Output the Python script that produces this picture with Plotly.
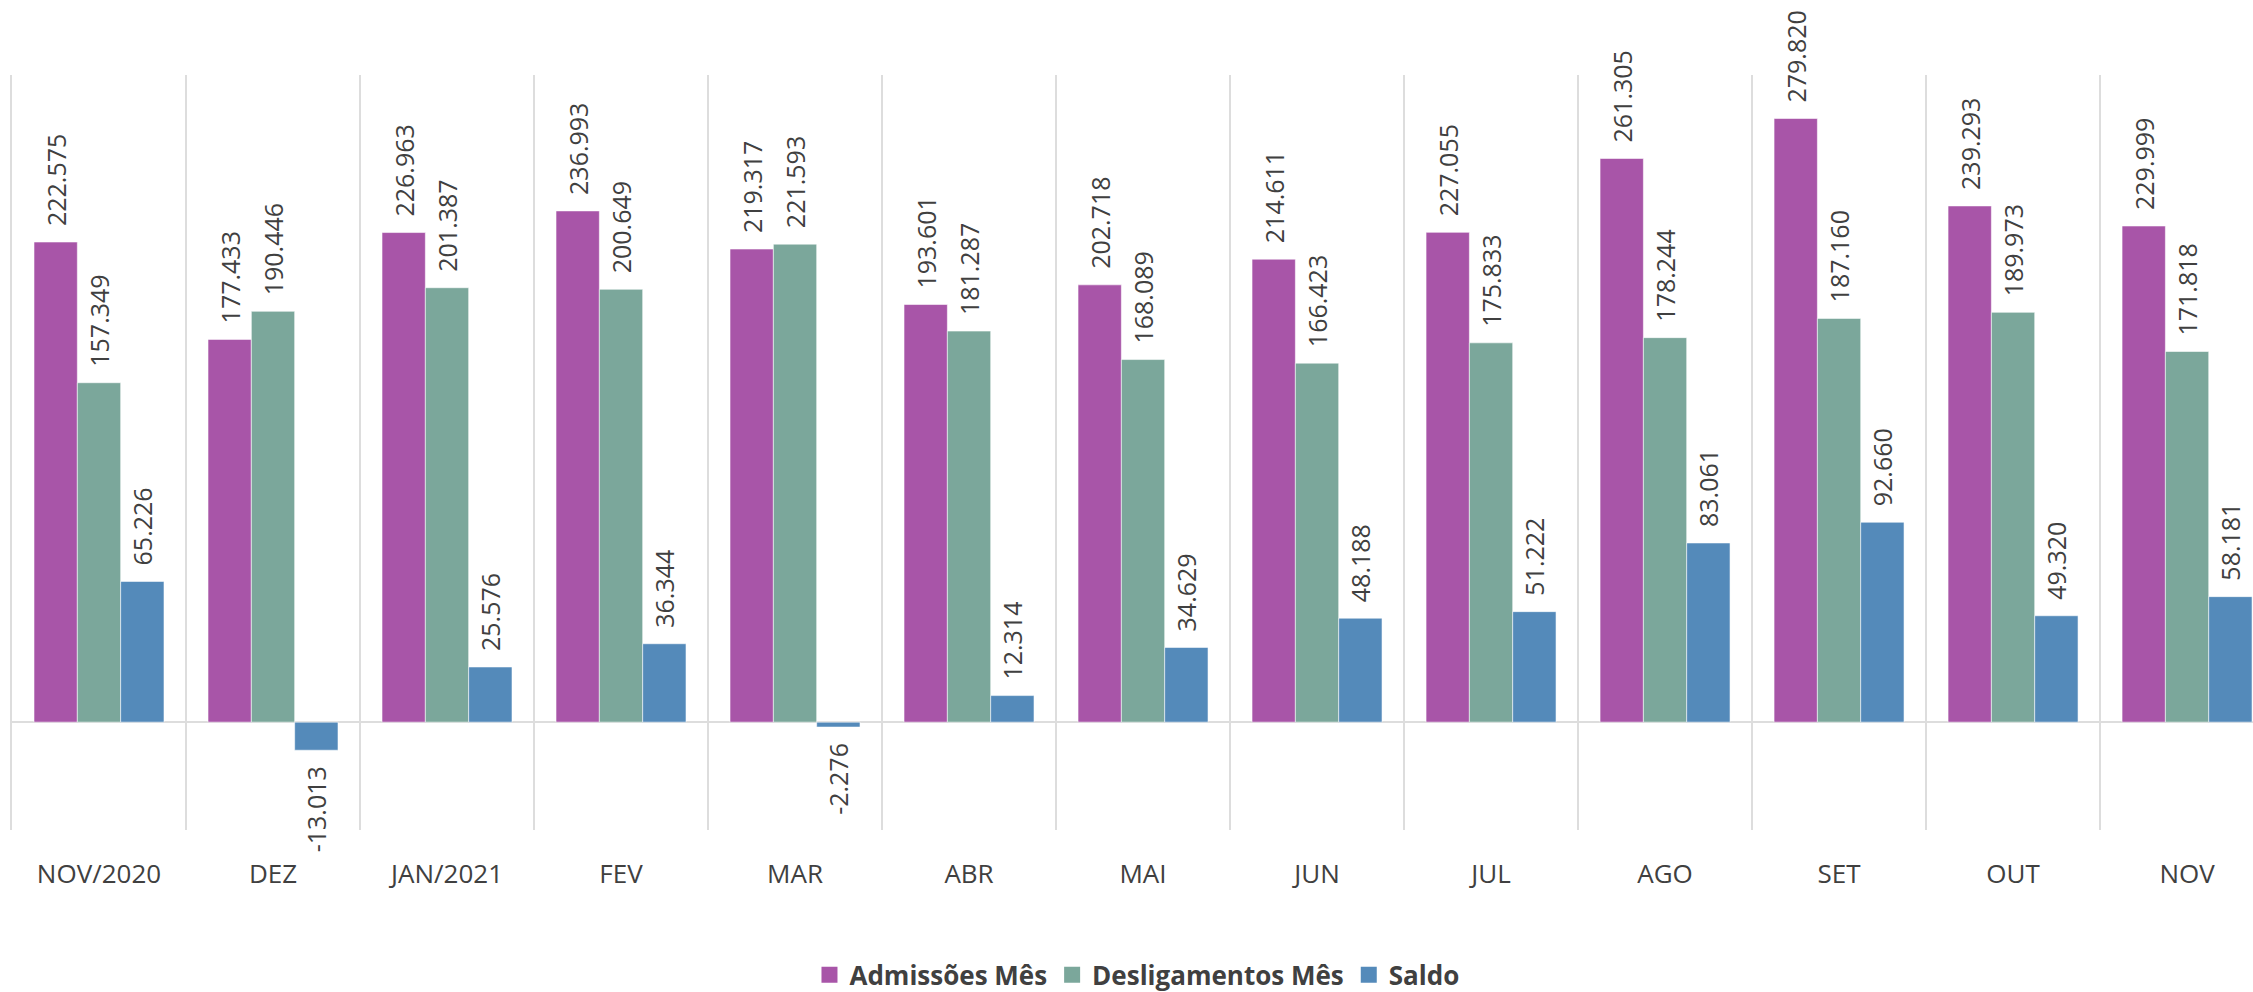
import plotly.graph_objects as go

categories = ["NOV/2020", "DEZ", "JAN/2021", "FEV", "MAR", "ABR", "MAI", "JUN", "JUL", "AGO", "SET", "OUT", "NOV"]
admissoes = [222575, 177433, 226963, 236993, 219317, 193601, 202718, 214611, 227055, 261305, 279820, 239293, 229999]
desligamentos = [157349, 190446, 201387, 200649, 221593, 181287, 168089, 166423, 175833, 178244, 187160, 189973, 171818]
saldo = [65226, -13013, 25576, 36344, -2276, 12314, 34629, 48188, 51222, 83061, 92660, 49320, 58181]

series_names = ["Admissões Mês", "Desligamentos Mês", "Saldo"]
series_colors = ["#A855A8", "#7BA79B", "#548ABA"]

FONT = "Open Sans"
TXT = "#404040"
GRID = "#DDDDDD"
PAD = "\u00a0\u00a0"


def fmt(v):
    s = f"{v:,}".replace(",", ".")
    return (PAD + s) if v >= 0 else (s + PAD)


fig = go.Figure()
for name, vals, col in zip(series_names, [admissoes, desligamentos, saldo], series_colors):
    fig.add_trace(go.Bar(
        x=categories, y=vals, name=name, showlegend=False,
        marker=dict(color=col, line=dict(width=1, color="rgba(255,255,255,0.55)")),
        text=[fmt(v) for v in vals],
        textposition="outside", textangle=-90, constraintext="none",
        cliponaxis=False,
        textfont=dict(family=FONT, size=25, color=TXT),
        hoverinfo="skip",
    ))

# legend entries (square swatches)
for name, col in zip(series_names, series_colors):
    fig.add_trace(go.Scatter(
        x=[None], y=[None], mode="markers", name=name,
        marker=dict(symbol="square", size=16, color=col),
        hoverinfo="skip",
    ))

fig.update_layout(
    width=2253, height=992,
    margin=dict(l=12, r=0, t=75, b=162, autoexpand=False),
    paper_bgcolor="white", plot_bgcolor="white",
    barmode="group", bargap=0.253, bargroupgap=0,
    font=dict(family=FONT, color=TXT),
    showlegend=True,
    legend=dict(orientation="h", x=0.502, y=-0.192, xanchor="center", yanchor="middle",
                font=dict(family=FONT, size=26, color=TXT, weight="bold"),
                traceorder="normal", itemwidth=30),
    xaxis=dict(type="category", range=[-0.5, 12.379], tickson="boundaries",
               showgrid=True, gridcolor=GRID, gridwidth=2,
               ticks="", ticklabelstandoff=26,
               tickfont=dict(family=FONT, size=26, color=TXT),
               showline=False, zeroline=False),
    yaxis=dict(range=[-50000, 300000], showgrid=False, showticklabels=False,
               zeroline=True, zerolinecolor=GRID, zerolinewidth=2,
               showline=True, linecolor=GRID, linewidth=2, ticks=""),
)

fig.write_html(
    "out.html",
    config={"displayModeBar": False},
    post_script="document.body.style.margin='0';document.body.style.overflow='hidden';",
)
